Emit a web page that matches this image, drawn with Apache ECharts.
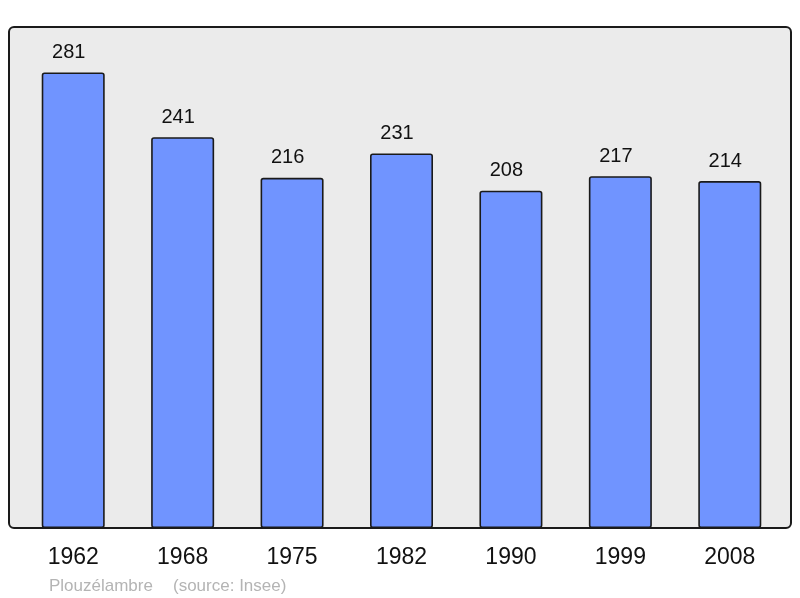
<!DOCTYPE html>
<html>
<head>
<meta charset="utf-8">
<script src="https://cdn.jsdelivr.net/npm/echarts@6/dist/echarts.min.js"></script>
<style>
html,body{margin:0;padding:0;background:#fff;}
#c{width:800px;height:598px;}
</style>
</head>
<body>
<div id="c"></div>
<script>
const years = ['1962','1968','1975','1982','1990','1999','2008'];
const population = [281, 241, 216, 231, 208, 217, 214];
const placeName = 'Plouzélambre';
const sourceText = '(source: Insee)';

const chart = echarts.init(document.getElementById('c'), null, {renderer:'canvas'});
chart.setOption({
  animation: false,
  backgroundColor: '#ffffff',
  textStyle: {fontFamily: 'Liberation Sans, Arial, sans-serif'},
  grid: {left: 18.5, right: 15.5, top: 27, bottom: 70, containLabel: false},
  xAxis: {
    type: 'category',
    data: years,
    axisLine: {show: false},
    axisTick: {show: false},
    axisLabel: {fontSize: 23, color: '#111', margin: 18, fontFamily: 'Liberation Sans, Arial, sans-serif'}
  },
  yAxis: {
    type: 'value',
    min: 0,
    max: 309,
    show: false,
    splitLine: {show: false}
  },
  graphic: [
    {type: 'rect', z: -10, shape: {x: 9, y: 27, width: 782, height: 501, r: 5},
     style: {fill: '#ebebeb', stroke: '#1a1a1a', lineWidth: 2}},
    {type: 'text', left: 49, top: 577.5, style: {text: placeName, fill: '#b4b4b4', font: '17px Liberation Sans, Arial, sans-serif'}},
    {type: 'text', left: 173, top: 577.5, style: {text: sourceText, fill: '#b4b4b4', font: '17px Liberation Sans, Arial, sans-serif'}}
  ],
  series: [{
    type: 'bar',
    data: population,
    barWidth: 63,
    itemStyle: {color: '#7094ff', borderColor: '#1a1a1a', borderWidth: 1.6, borderRadius: 2},
    label: {show: true, position: 'top', distance: 10, offset: [-4.5, 0], fontSize: 20, color: '#111', fontFamily: 'Liberation Sans, Arial, sans-serif'}
  }]
});
</script>
</body>
</html>
